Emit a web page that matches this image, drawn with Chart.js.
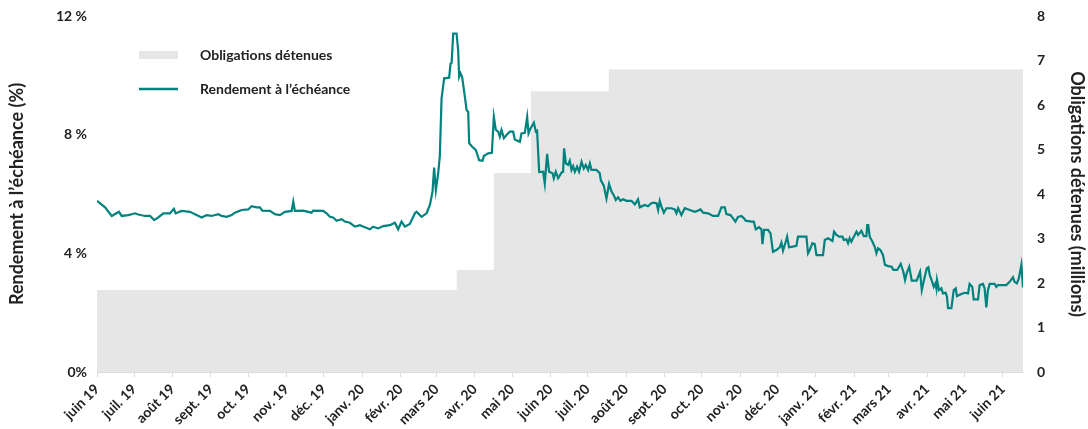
<!DOCTYPE html>
<html lang="fr">
<head>
<meta charset="utf-8">
<title>Rendement à l'échéance et obligations détenues</title>
<script src="https://cdn.jsdelivr.net/npm/chart.js@4.4.1/dist/chart.umd.min.js"></script>
<style>
  html, body { margin: 0; padding: 0; background: #fff; }
  #wrap { width: 1088px; height: 429px; }
</style>
</head>
<body>
<div id="wrap"><canvas id="yieldChart" width="1088" height="429"></canvas></div>
<script>
// x values are days counted from 1 June 2019
const monthLabels = ['juin 19', 'juil. 19', 'août 19', 'sept. 19', 'oct. 19', 'nov. 19', 'déc. 19',
  'janv. 20', 'févr. 20', 'mars 20', 'avr. 20', 'mai 20', 'juin 20', 'juil. 20', 'août 20',
  'sept. 20', 'oct. 20', 'nov. 20', 'déc. 20', 'janv. 21', 'févr. 21', 'mars 21', 'avr. 21',
  'mai 21', 'juin 21'];

const yieldDays = [
  0, 6.5, 11.9, 17.7, 19.9, 25.3, 30.7, 33.3, 38.7, 42.8, 46.2, 49.5, 53.5, 58.9, 62.1, 63.5,
  68.3, 75.0, 79.1, 84.5, 88.5, 92.5, 97.9, 100.6, 104.6, 108.7, 111.3, 116.7, 122.1, 124.8,
  128.8, 131.5, 133.4, 139.6, 143.6, 147.6, 151.7, 157.1, 158.4, 159.7, 166.4, 173.2, 174.5,
  182.6, 185.3, 188.0, 190.6, 193.4, 197.4, 200.1, 204.1, 208.2, 212.2, 216.2, 220.3, 222.9,
  227.0, 231.0, 236.4, 240.4, 243.1, 245.8, 248.5, 252.5, 256.6, 257.9, 262.0, 266.0, 268.7,
  270.8, 272.1, 273.5, 275.4, 276.7, 278.1, 280.2, 284.2, 285.4, 286.2, 287.5, 290.2, 291.5,
  292.3, 293.4, 294.7, 296.9, 298.3, 299.6, 300.4, 302.3, 305.8, 308.4, 311.2, 312.2, 315.7,
  318.7, 320.3, 321.9, 323.8, 325.1, 326.5, 328.4, 330.5, 333.2, 335.9, 337.2, 341.3, 342.6,
  345.3, 347.2, 348.3, 349.9, 352.6, 354.2, 355.2, 356.9, 360.1, 361.4, 363.3, 364.9, 367.7,
  368.7, 370.3, 372.2, 374.9, 376.2, 377.0, 378.4, 380.2, 381.6, 383.0, 384.3, 385.7, 387.5,
  389.1, 391.1, 392.9, 394.5, 396.4, 397.8, 399.1, 403.2, 405.8, 406.6, 409.1, 411.2, 413.3,
  415.3, 417.1, 418.7, 420.6, 422.5, 424.6, 427.4, 431.4, 434.1, 436.7, 438.1, 442.1, 444.8,
  447.5, 449.4, 451.6, 452.9, 454.2, 455.6, 457.5, 459.6, 463.7, 466.3, 467.7, 469.0, 471.7,
  474.4, 478.4, 482.4, 485.1, 487.1, 489.2, 493.2, 497.2, 501.3, 504.0, 506.7, 508.0, 511.3,
  513.4, 515.3, 517.4, 520.1, 522.2, 523.6, 528.2, 530.1, 531.7, 534.3, 536.3, 537.1, 538.4,
  541.6, 543.6, 545.6, 548.4, 551.0, 552.4, 553.7, 555.9, 557.0, 558.6, 560.5, 564.5, 565.8,
  572.6, 573.9, 575.3, 577.4, 579.3, 580.7, 586.0, 587.4, 590.1, 593.6, 594.9, 596.9, 599.0,
  601.7, 602.7, 604.9, 606.2, 607.5, 608.9, 610.2, 613.0, 614.3, 617.0, 618.9, 621.0, 621.7,
  622.5, 623.7, 625.9, 627.7, 629.1, 630.4, 632.3, 634.4, 636.0, 638.6, 641.4, 642.7, 645.9,
  648.7, 650.8, 652.2, 653.5, 655.6, 657.6, 661.6, 664.3, 665.7, 667.5, 669.7, 671.0, 672.1,
  674.1, 675.4, 676.8, 677.5, 678.0, 679.6, 681.5, 682.8, 685.0, 686.0, 686.9, 689.6, 691.5,
  693.1, 694.1, 697.7, 700.3, 703.0, 704.3, 706.5, 707.6, 711.1, 712.4, 715.1, 716.4, 717.8,
  719.1, 720.5, 724.5, 725.9, 727.2, 733.9, 736.6, 739.3, 740.6, 742.5, 744.1, 746.1, 747.4
];

const yieldValues = [
  5.77, 5.55, 5.26, 5.40, 5.26, 5.29, 5.35, 5.31, 5.26, 5.26, 5.12, 5.21, 5.35, 5.35, 5.50, 5.35,
  5.43, 5.40, 5.32, 5.21, 5.29, 5.26, 5.32, 5.26, 5.23, 5.29, 5.37, 5.46, 5.48, 5.59,
  5.55, 5.55, 5.44, 5.43, 5.32, 5.29, 5.40, 5.43, 5.74, 5.43, 5.44, 5.37, 5.44,
  5.43, 5.35, 5.23, 5.21, 5.10, 5.15, 5.07, 5.03, 4.90, 4.95, 4.88, 4.81, 4.90,
  4.84, 4.92, 4.95, 5.03, 4.81, 5.07, 4.90, 4.99, 5.35, 5.40, 5.23, 5.35, 5.63,
  6.08, 6.89, 6.13, 6.70, 7.28, 9.22, 9.90, 9.92, 10.40, 10.42, 11.41, 11.41, 10.85,
  9.95, 10.07, 9.95, 9.28, 8.83, 8.77, 7.71, 7.62, 7.48, 7.14, 7.12, 7.28, 7.37,
  7.39, 8.60, 8.16, 8.10, 7.93, 8.16, 7.88, 7.99, 8.10, 8.10, 7.84, 7.76, 8.04,
  8.06, 8.60, 8.04, 8.21, 8.40, 8.10, 8.13, 6.74, 6.75, 6.36, 7.35, 6.75, 6.70,
  6.53, 6.75, 6.53, 6.72, 6.75, 7.54, 7.03, 6.98, 7.12, 6.81, 6.94, 6.75, 6.92,
  6.75, 7.09, 6.86, 6.98, 6.81, 7.03, 6.81, 6.81, 6.70, 6.47, 6.27, 5.85, 6.34,
  6.08, 5.96, 5.80, 5.89, 5.77, 5.82, 5.77, 5.77, 5.65, 5.82, 5.55, 5.63, 5.59,
  5.69, 5.71, 5.69, 5.46, 5.77, 5.57, 5.37, 5.52, 5.52, 5.48, 5.35, 5.52, 5.29,
  5.52, 5.46, 5.40, 5.44, 5.48, 5.37, 5.35, 5.26, 5.26, 5.55, 5.55, 5.32, 5.29,
  5.18, 5.07, 5.23, 5.26, 5.18, 5.10, 5.07, 5.07, 4.81, 4.88, 4.81, 4.31, 4.79,
  4.79, 4.67, 4.05, 4.11, 4.20, 4.36, 4.09, 4.39, 4.56, 4.20, 4.22, 4.25, 4.56,
  4.56, 4.00, 4.11, 4.34, 4.31, 3.94, 3.94, 4.45, 4.51, 4.42, 4.73, 4.62, 4.56,
  4.56, 4.45, 4.47, 4.34, 4.51, 4.39, 4.51, 4.73, 4.62, 4.76, 4.58, 4.58, 4.95,
  4.95, 4.56, 4.39, 4.22, 4.00, 4.17, 4.11, 3.94, 3.61, 3.57, 3.55, 3.44, 3.44,
  3.64, 3.38, 3.10, 3.33, 3.55, 3.08, 3.08, 3.38, 2.76, 3.10, 3.49, 3.53, 3.27,
  3.04, 2.87, 2.99, 2.82, 3.10, 2.76, 2.82, 2.65, 2.67, 2.54, 2.15, 2.15, 2.76,
  2.82, 2.56, 2.63, 2.67, 2.65, 2.97, 2.87, 2.45, 2.45, 2.93, 2.97, 2.82, 2.18,
  2.76, 2.97, 2.97, 2.87, 2.93, 2.93, 3.04, 3.19, 3.04, 2.99, 3.16, 3.61, 2.85
];

// bond holdings (millions), each level holds until the next change
const holdDays = [0, 290.4, 320.3, 350.2, 413.1, 747.4];
const holdValues = [1.84, 2.29, 4.47, 6.31, 6.80, 6.80];

const yTicks = [0, 4, 8, 12];
const y2Ticks = [0, 1, 2, 3, 4, 5, 6, 7, 8];

const TEAL = '#00837e';
const AREA = '#e6e6e6';
const TEXT = '#222222';

// month starts as day offsets
const monthDays = monthLabels.map((_, i) =>
  Math.round((Date.UTC(2019, 5 + i, 1) - Date.UTC(2019, 5, 1)) / 86400000));

const yieldPoints = yieldDays.map((d, i) => ({ x: d, y: yieldValues[i] }));
const holdPoints = holdDays.map((d, i) => ({ x: d, y: holdValues[i] }));

Chart.defaults.font.family = 'Lato, "Open Sans", sans-serif';
Chart.defaults.font.weight = 'bold';
Chart.defaults.color = TEXT;

// legend drawn inside the plot, upper left
const insideLegend = {
  id: 'insideLegend',
  afterDraw(chart) {
    const ctx = chart.ctx;
    const area = chart.data.datasets[1];
    const line = chart.data.datasets[0];
    ctx.save();
    ctx.fillStyle = area.backgroundColor;
    ctx.fillRect(139, 51, 39, 8);
    ctx.strokeStyle = line.borderColor;
    ctx.lineWidth = 2.5;
    ctx.beginPath();
    ctx.moveTo(139, 89);
    ctx.lineTo(178, 89);
    ctx.stroke();
    ctx.fillStyle = TEXT;
    ctx.font = 'bold 14px Lato';
    ctx.textBaseline = 'middle';
    ctx.fillText(area.label, 200, 55);
    ctx.fillText(line.label, 200, 89);
    ctx.restore();
  }
};

// vertical axes: fixed width, no extra top/bottom padding from tick labels
const fixVertical = (width) => (scale) => {
  scale.width = width;
  scale.paddingTop = 0;
  scale.paddingBottom = 0;
};

const ctx = document.getElementById('yieldChart').getContext('2d');
new Chart(ctx, {
  type: 'line',
  data: {
    datasets: [
      {
        label: 'Rendement à l’échéance',
        data: yieldPoints,
        yAxisID: 'y',
        borderColor: TEAL,
        borderWidth: 2.2,
        pointRadius: 0,
        tension: 0,
        fill: false
      },
      {
        label: 'Obligations détenues',
        data: holdPoints,
        yAxisID: 'y2',
        stepped: 'before',
        borderWidth: 0,
        borderColor: AREA,
        backgroundColor: AREA,
        pointRadius: 0,
        fill: 'origin'
      }
    ]
  },
  options: {
    responsive: false,
    animation: false,
    layout: { padding: { top: 16, left: 0, right: 0, bottom: 0 } },
    plugins: {
      legend: { display: false },
      tooltip: { enabled: false }
    },
    scales: {
      x: {
        type: 'linear',
        min: 0,
        max: 747.4,
        grid: { drawOnChartArea: false, color: '#d9d9d9', tickLength: 5 },
        border: { color: '#dcdcdc', width: 1 },
        afterBuildTicks: (scale) => { scale.ticks = monthDays.map(v => ({ value: v })); },
        afterFit: (scale) => { scale.height = 57; },
        ticks: {
          autoSkip: false,
          minRotation: 45,
          maxRotation: 45,
          padding: 4,
          font: { size: 14, weight: 'bold' },
          callback: (value, index) => monthLabels[index]
        }
      },
      y: {
        position: 'left',
        min: 0,
        max: 12,
        afterBuildTicks: (scale) => { scale.ticks = yTicks.map(v => ({ value: v })); },
        afterFit: fixVertical(97),
        grid: { display: false, drawTicks: false },
        border: { display: false },
        ticks: {
          padding: 10,
          font: { size: 14, weight: 'bold' },
          callback: (v) => v === 0 ? '0%' : v + ' %'
        },
        title: {
          display: true,
          text: 'Rendement à l’échéance (%)',
          font: { size: 18, weight: 'bold' },
          padding: { top: 6, bottom: 0 }
        }
      },
      y2: {
        position: 'right',
        min: 0,
        max: 8,
        afterBuildTicks: (scale) => { scale.ticks = y2Ticks.map(v => ({ value: v })); },
        afterFit: fixVertical(65),
        grid: { display: false, drawTicks: false },
        border: { display: false },
        ticks: {
          padding: 14,
          font: { size: 14, weight: 'bold' }
        },
        title: {
          display: true,
          text: 'Obligations détenues (millions)',
          font: { size: 18, weight: 'bold' },
          padding: { top: 0, bottom: 0 }
        }
      }
    }
  },
  plugins: [insideLegend]
});
</script>
</body>
</html>
